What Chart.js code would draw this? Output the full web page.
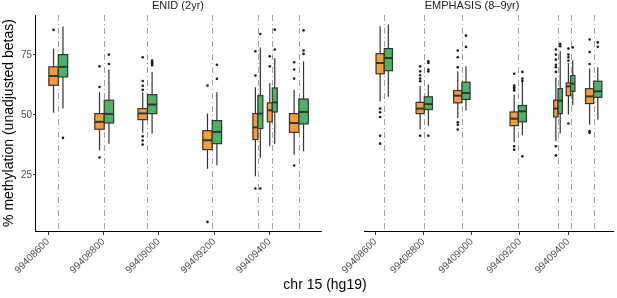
<!DOCTYPE html>
<html>
<head>
<meta charset="utf-8">
<script src="https://cdn.jsdelivr.net/npm/chart.js@4"></script>
<style>
  body { margin: 0; background: #fff; font-family: "Liberation Sans", Arial, sans-serif; }
  #wrap { position: relative; width: 617px; height: 298px; overflow: hidden; }
  #wrap canvas { position: absolute; top: 0; }
  .strip { position: absolute; top: -1px; font-size: 11px; line-height: 13px; color: #1a1a1a; transform: translateX(-50%); white-space: nowrap; }
  .ytick { position: absolute; left: 0; font-size: 10px; line-height: 12px; color: #4d4d4d; text-align: right; z-index: 3; }
  #xtitle { position: absolute; top: 276px; left: 325px; transform: translateX(-50%); font-size: 14px; line-height: 16px; color: #000; white-space: nowrap; }
</style>
</head>
<body>
<div id="wrap">
  <canvas id="enid" width="325" height="276" style="left:0"></canvas>
  <canvas id="emph" width="317" height="276" style="left:300px"></canvas>
  <div class="strip" style="left:178px">ENID (2yr)</div>
  <div class="strip" style="left:472px">EMPHASIS (8–9yr)</div>
  <div id="xtitle">chr 15 (hg19)</div>
</div>
<script>
// CpG positions on chr 15 (hg19); the two groups are dodged either side of each one
const CPG = [99408637, 99408803, 99408959, 99409193, 99409358, 99409410, 99409506];
const BOX_BP = [34, 34, 34, 34, 18, 18, 34];
const X_TICKS = [99408600, 99408800, 99409000, 99409200, 99409400];
const Y_TICKS = [25, 50, 75];
const X_RANGE = [99408553, 99409586];
const Y_RANGE = [1.5, 91.5];

// each box: [lower whisker, Q1, median, Q3, upper whisker]
const ENID_ORANGE = [[50.8, 62.2, 66.1, 69.9, 77.5], [35.1, 43.9, 47.0, 50.4, 59.4], [42.4, 47.9, 50.5, 52.5, 59.3],
  [27.4, 35.4, 39.3, 43.3, 50.4], [24.3, 39.6, 44.7, 50.4, 61.4], [36.8, 47.0, 51.8, 54.9, 63.2], [33.3, 42.6, 46.5, 50.4, 60.4]];
const ENID_ORANGE_OUT = [[85.3], [70.1, 61.5, 32.1], [73.9, 64.0, 62.0, 60.3, 41.0, 39.2, 37.5],
  [62.1, 5.3], [76.4, 66.3, 19.2], [74.3, 70.1], [71.8, 68.8, 65.0, 28.8]];
const ENID_GREEN = [[52.5, 65.7, 69.9, 75.0, 86.7], [37.9, 46.5, 50.3, 56.0, 68.8], [42.1, 50.4, 54.2, 58.3, 67.8],
  [28.9, 37.9, 42.8, 47.5, 59.3], [32.0, 44.2, 50.4, 57.9, 78.0], [37.8, 51.1, 55.1, 61.1, 73.6], [34.7, 46.1, 51.1, 56.5, 72.2]];
const ENID_GREEN_OUT = [[40.3], [75.0, 71.1], [72.5, 71.8, 71.2, 70.6], [70.8, 64.9], [83.6, 19.2], [85.4, 77.1], [85.1, 76.7, 75.3]];

const EMPH_ORANGE = [[55.5, 67.0, 71.5, 75.4, 86.8], [43.8, 50.4, 52.5, 55.1, 62.1], [48.6, 54.9, 57.9, 60.0, 68.0],
  [38.5, 45.4, 48.3, 51.1, 58.3], [38.9, 49.0, 52.5, 56.0, 65.5], [50.0, 57.9, 61.8, 63.2, 71.5], [45.8, 54.6, 57.6, 60.8, 69.2]];
const EMPH_ORANGE_OUT = [[52.5, 51.0, 49.0, 41.2, 37.9], [70.1, 68.0, 66.4, 65.0, 63.9, 41.2], [76.7, 73.9, 69.7, 46.8, 45.8, 43.8],
  [67.0, 62.1, 61.4, 60.8, 60.0, 36.8, 35.4], [77.1, 75.0, 72.9, 70.8, 69.7, 67.8, 36.8, 33.0], [77.5, 75.0, 73.9, 72.5, 46.3],
  [81.3, 76.1, 71.1, 43.1, 42.4]];
const EMPH_GREEN = [[57.4, 68.3, 73.6, 77.5, 87.5], [45.4, 52.1, 54.4, 57.4, 62.5], [51.7, 56.3, 59.0, 63.5, 70.1],
  [41.4, 47.0, 51.4, 53.8, 63.9], [42.1, 50.4, 55.8, 60.8, 76.4], [53.9, 59.7, 62.9, 66.3, 72.5], [47.9, 57.2, 59.7, 63.9, 69.7]];
const EMPH_GREEN_OUT = [[], [72.2, 71.5, 68.8, 68.0, 41.2], [82.9, 78.2], [67.8, 65.0, 64.0, 32.6], [79.4, 78.5], [78.0], [80.1, 78.3]];

const ORANGE = "#F59C3B", GREEN = "#4BB363", EDGE = "#333333";

// whiskers, boxes and medians, plus the dash-dot CpG guides
const boxPlugin = {
  id: "boxes",
  beforeDatasetsDraw(chart, args, opts) {
    const { ctx, chartArea, scales: { x, y } } = chart;
    ctx.save();
    ctx.strokeStyle = "#a0a0a0";
    ctx.lineWidth = 1;
    ctx.setLineDash([6, 3, 1, 3]);
    CPG.forEach((p) => {
      const px = Math.round(x.getPixelForValue(p)) + 0.5;
      ctx.beginPath(); ctx.moveTo(px, chartArea.top); ctx.lineTo(px, chartArea.bottom); ctx.stroke();
    });
    ctx.setLineDash([]);
    opts.groups.forEach((g) => {
      g.stats.forEach((s, i) => {
        const w = BOX_BP[i], c = CPG[i] + g.side * w / 2;
        const l = x.getPixelForValue(c - w / 2), r = x.getPixelForValue(c + w / 2), m = x.getPixelForValue(c);
        const [lo, q1, med, q3, hi] = s.map((v) => y.getPixelForValue(v));
        ctx.strokeStyle = EDGE;
        ctx.lineWidth = 1.2;
        ctx.beginPath(); ctx.moveTo(m, lo); ctx.lineTo(m, hi); ctx.stroke();
        ctx.fillStyle = g.color;
        ctx.fillRect(l, q3, r - l, q1 - q3);
        ctx.strokeRect(l, q3, r - l, q1 - q3);
        ctx.lineWidth = 2;
        ctx.beginPath(); ctx.moveTo(l, med); ctx.lineTo(r, med); ctx.stroke();
      });
    });
    ctx.restore();
  },
};

const outPts = (outs, side) => outs.flatMap((arr, i) => arr.map((v) => ({ x: CPG[i] + side * BOX_BP[i] / 2, y: v })));

function makeChart(id, orange, orangeOut, green, greenOut, isLeft) {
  const dot = { pointRadius: 1.3, pointBackgroundColor: "#1a1a1a", pointBorderWidth: 0 };
  return new Chart(document.getElementById(id), {
    type: "scatter",
    data: { datasets: [{ data: outPts(orangeOut, -1), ...dot }, { data: outPts(greenOut, 1), ...dot }] },
    options: {
      responsive: false, animation: false, devicePixelRatio: 1,
      layout: { padding: isLeft ? { left: 0, right: 4, top: 15, bottom: 0 } : { left: 29, right: 3, top: 15, bottom: 0 } },
      plugins: {
        legend: { display: false }, tooltip: { enabled: false },
        boxes: { groups: [{ stats: orange, side: -1, color: ORANGE }, { stats: green, side: 1, color: GREEN }] },
      },
      scales: {
        x: {
          type: "linear", min: X_RANGE[0], max: X_RANGE[1],
          afterBuildTicks: (s) => { s.ticks = X_TICKS.map((v) => ({ value: v })); },
          afterFit: (s) => { s.height = 45; },
          ticks: { autoSkip: false, minRotation: 45, maxRotation: 45, padding: 1, color: "#4d4d4d",
            font: { family: "Liberation Sans", size: 10 }, callback: (v) => String(v) },
          grid: { drawOnChartArea: false, tickLength: 4, color: EDGE },
          border: { color: "#000", width: 1 },
        },
        y: {
          display: isLeft, min: Y_RANGE[0], max: Y_RANGE[1],
          afterBuildTicks: (s) => { s.ticks = Y_TICKS.map((v) => ({ value: v })); },
          afterFit: (s) => { s.width = 35; },
          ticks: { display: false },
          grid: { drawOnChartArea: false, tickLength: 2, color: EDGE },
          border: { color: "#000", width: 1 },
          title: { display: true, text: "% methylation (unadjusted betas)", color: "#000",
            font: { family: "Liberation Sans", size: 14 }, padding: { top: 1, bottom: 0 } },
        },
      },
    },
    plugins: [boxPlugin],
  });
}

const enid = makeChart("enid", ENID_ORANGE, ENID_ORANGE_OUT, ENID_GREEN, ENID_GREEN_OUT, true);
makeChart("emph", EMPH_ORANGE, EMPH_ORANGE_OUT, EMPH_GREEN, EMPH_GREEN_OUT, false);

// y tick labels as page text, placed at the left chart's own y-scale pixels
const ys = enid.scales.y;
Y_TICKS.forEach((v) => {
  const d = document.createElement("div");
  d.className = "ytick";
  d.textContent = String(v);
  d.style.width = `${ys.right - 3}px`;
  d.style.top = `${ys.getPixelForValue(v) - 6}px`;
  document.getElementById("wrap").appendChild(d);
});
</script>
</body>
</html>
